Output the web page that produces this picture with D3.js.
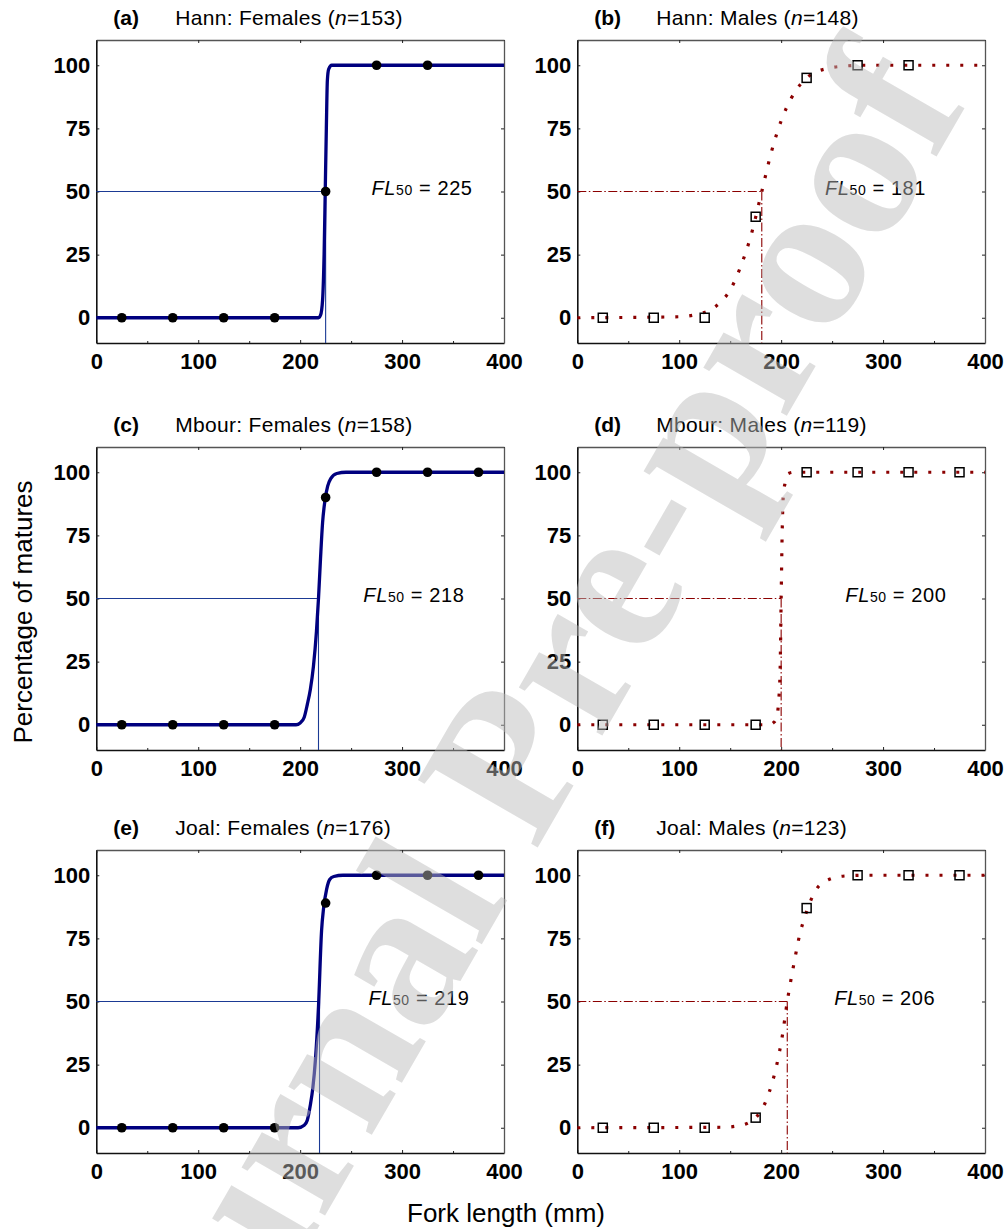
<!DOCTYPE html>
<html>
<head>
<meta charset="utf-8">
<script src="https://cdn.jsdelivr.net/npm/d3@7"></script>
<style>
  body { margin: 0; background: #fff; }
  svg { display: block; font-family: "Liberation Sans", Arial, sans-serif; }
</style>
</head>
<body>
<script>
// ---- data ----
const panelIds    = ["(a)", "(b)", "(c)", "(d)", "(e)", "(f)"];
const sites       = ["Hann", "Hann", "Mbour", "Mbour", "Joal", "Joal"];
const sexes       = ["Females", "Males", "Females", "Males", "Females", "Males"];
const sampleSizes = [153, 148, 158, 119, 176, 123];
const fl50        = [225, 181, 218, 200, 219, 206];

// fork length class mid-points (mm)
const lengthClasses = [25, 75, 125, 175, 225, 275, 325, 375];

// observed % mature per class
const obsA = [0, 0, 0, 0, 50, 100, 100];
const obsB = [0, 0, 0, 40, 95, 100, 100];
const obsC = [0, 0, 0, 0, 90, 100, 100, 100];
const obsD = [0, 0, 0, 0, 100, 100, 100, 100];
const obsE = [0, 0, 0, 0, 89, 100, 100, 100];
const obsF = [0, 0, 0, 4, 87, 100, 100, 100];

// fitted ogives, [fork length, % mature]
const fitA = [[0,0],[218,0],[220,1],[222,7],[223.5,25],[224.6,50],[225.7,75],[226.7,94],[228,98.5],[231,100],[400,100]];
const fitB = [[0,0],[100,0.4],[120,1.6],[130,3],[140,6],[150,11],[160,20],[170,32],[181,50],[190,65],[200,78],
              [210,87],[220,93],[230,96.5],[245,98.7],[260,99.6],[280,100],[400,100]];
const fitC = [[0,0],[196,0],[200,0.7],[204,3],[207,8],[210,14],[213,23],[216,37],[218,50],[220,66],[222,80],
              [224.4,89],[227,94.5],[230,97.5],[236,99.5],[245,100],[400,100]];
const fitD = [[0,0],[188,0],[193,1],[195.5,3],[197.5,9],[199,22],[200,50],[201,76],[202,90],[204,96],[207,99.5],[212,100],[400,100]];
const fitE = [[0,0],[198,0],[204,1],[207,3],[210,9],[212.5,16],[215,27],[218,48],[221,78],[223,87],[226,94.5],
              [229,98.3],[233,99.5],[242,100],[400,100]];
const fitF = [[0,0],[143,0.2],[158,0.8],[168,2],[175,4],[182.5,8.3],[188.4,14.2],[196,25.5],[201,36],[206,50],
              [212.7,65.3],[218.5,77],[222.5,82.6],[228,89],[234.3,94.3],[247.3,98.4],[262,99.7],[280,100],[400,100]];

const observed = [obsA, obsB, obsC, obsD, obsE, obsF];
const fitted   = [fitA, fitB, fitC, fitD, fitE, fitF];

const xTicks = [0, 100, 200, 300, 400];
const xMinor = [50, 150, 250, 350];
const yTicks = [0, 25, 50, 75, 100];

// where the FL50 note sits, in fork-length units
const labelAt = [270, 243, 262, 263, 267, 252];

// ---- layout ----
const W = 1008, H = 1229;
const colLeft = [96.3, 577.3], rowTop = [40, 447, 850];
const boxW = 407.7, boxH = 303;
const femaleCol = "#00007f", maleCol = "#8b0000";

const svg = d3.select("body").append("svg")
    .attr("width", W)
    .attr("height", H);

const line = d3.line().curve(d3.curveMonotoneX);

panelIds.forEach(function(id, i) {
  const col = i % 2, row = Math.floor(i / 2);
  const female = sexes[i] === "Females";
  const g = svg.append("g")
      .attr("transform", "translate(" + colLeft[col] + "," + rowTop[row] + ")");

  const x = d3.scaleLinear().domain([0, 400]).range([0, boxW]);
  const y = d3.scaleLinear().domain([-10, 110]).range([boxH, 0]);

  // axes: labelled bottom/left, bare top/right, all ticks inward
  const bottom = g.append("g").attr("transform", "translate(0," + boxH + ")")
      .call(d3.axisBottom(x).tickValues(xTicks).tickSizeInner(-3).tickSizeOuter(0).tickPadding(10));
  g.append("g").attr("transform", "translate(0," + boxH + ")")
      .call(d3.axisBottom(x).tickValues(xMinor).tickSize(-2).tickFormat(""))
      .select(".domain").remove();
  const left = g.append("g")
      .call(d3.axisLeft(y).tickValues(yTicks).tickSizeInner(-3).tickSizeOuter(0).tickPadding(6));
  const top = g.append("g")
      .call(d3.axisTop(x).tickValues(xTicks).tickSizeInner(-3).tickSizeOuter(0).tickFormat(""));
  const right = g.append("g").attr("transform", "translate(" + boxW + ",0)")
      .call(d3.axisRight(y).tickValues(yTicks).tickSizeInner(-3).tickSizeOuter(0).tickFormat(""));

  [bottom, left].forEach(function(a) {
    a.select(".domain").attr("stroke", "#111").attr("stroke-width", 1.6);
    a.selectAll("text").attr("font-size", 22).attr("font-weight", "bold").attr("fill", "#000")
        .attr("font-family", "'Liberation Sans', Arial, sans-serif");
  });
  [top, right].forEach(function(a) {
    a.select(".domain").attr("stroke", "#555").attr("stroke-width", 1.3);
  });
  g.selectAll(".tick line").attr("stroke", "#222");

  // FL50 reference lines
  const ref = g.append("g")
      .attr("stroke", female ? "#1b3a94" : maleCol)
      .attr("stroke-width", 1.1)
      .attr("fill", "none")
      .attr("stroke-dasharray", female ? null : "9,2.5,1.5,2.5");
  ref.append("line")
      .attr("x1", x(0)).attr("x2", x(fl50[i]))
      .attr("y1", y(50)).attr("y2", y(50));
  ref.append("line")
      .attr("x1", x(fl50[i])).attr("x2", x(fl50[i]))
      .attr("y1", y(50)).attr("y2", y(-10));

  // fitted ogive
  g.append("path")
      .attr("d", line(fitted[i].map(function(d) { return [x(d[0]), y(d[1])]; })))
      .attr("fill", "none")
      .attr("stroke", female ? femaleCol : maleCol)
      .attr("stroke-width", female ? 3.3 : 3.2)
      .attr("stroke-dasharray", female ? null : "3,11");

  // observed points
  const pts = observed[i].map(function(v, j) { return { len: lengthClasses[j], pct: v }; });
  if (female) {
    g.selectAll(".dot").data(pts).enter().append("circle")
        .attr("cx", function(d) { return x(d.len); })
        .attr("cy", function(d) { return y(d.pct); })
        .attr("r", 4.8)
        .attr("fill", "#000");
  } else {
    g.selectAll(".sq").data(pts).enter().append("rect")
        .attr("x", function(d) { return x(d.len) - 4.5; })
        .attr("y", function(d) { return y(d.pct) - 4.5; })
        .attr("width", 9).attr("height", 9)
        .attr("fill", "none")
        .attr("stroke", "#000")
        .attr("stroke-width", 1.5);
  }

  // FL50 note
  const note = g.append("text")
      .attr("x", x(labelAt[i]))
      .attr("y", y(50) + 3)
      .attr("font-size", 20)
      .attr("letter-spacing", 0.6);
  note.append("tspan").attr("font-style", "italic").text("FL");
  note.append("tspan").attr("font-size", 14).text("50");
  note.append("tspan").text(" = " + fl50[i]);

  // panel title
  g.append("text")
      .attr("x", 17).attr("y", -15)
      .attr("font-size", 21).attr("font-weight", "bold")
      .text(id);
  const title = g.append("text")
      .attr("x", 79).attr("y", -15)
      .attr("font-size", 21)
      .attr("letter-spacing", 0.3);
  title.append("tspan").text(sites[i] + ": " + sexes[i] + " (");
  title.append("tspan").attr("font-style", "italic").text("n");
  title.append("tspan").text("=" + sampleSizes[i] + ")");
});

// shared axis titles
svg.append("text")
    .attr("transform", "translate(31.5,612) rotate(-90)")
    .attr("text-anchor", "middle")
    .attr("font-size", 26)
    .text("Percentage of matures");
svg.append("text")
    .attr("x", 506).attr("y", 1222)
    .attr("text-anchor", "middle")
    .attr("font-size", 26)
    .text("Fork length (mm)");

// journal watermark laid over the figure
svg.append("text")
    .attr("transform", "translate(522,778) rotate(-60)")
    .attr("text-anchor", "middle")
    .attr("dy", "0.23em")
    .attr("font-family", "'Liberation Serif', 'Times New Roman', serif")
    .attr("font-weight", "bold")
    .attr("font-size", 210)
    .attr("fill", "rgb(187,187,187)")
    .attr("fill-opacity", 0.48)
    .attr("pointer-events", "none")
    .text("Journal Pre-proof");
</script>
</body>
</html>
